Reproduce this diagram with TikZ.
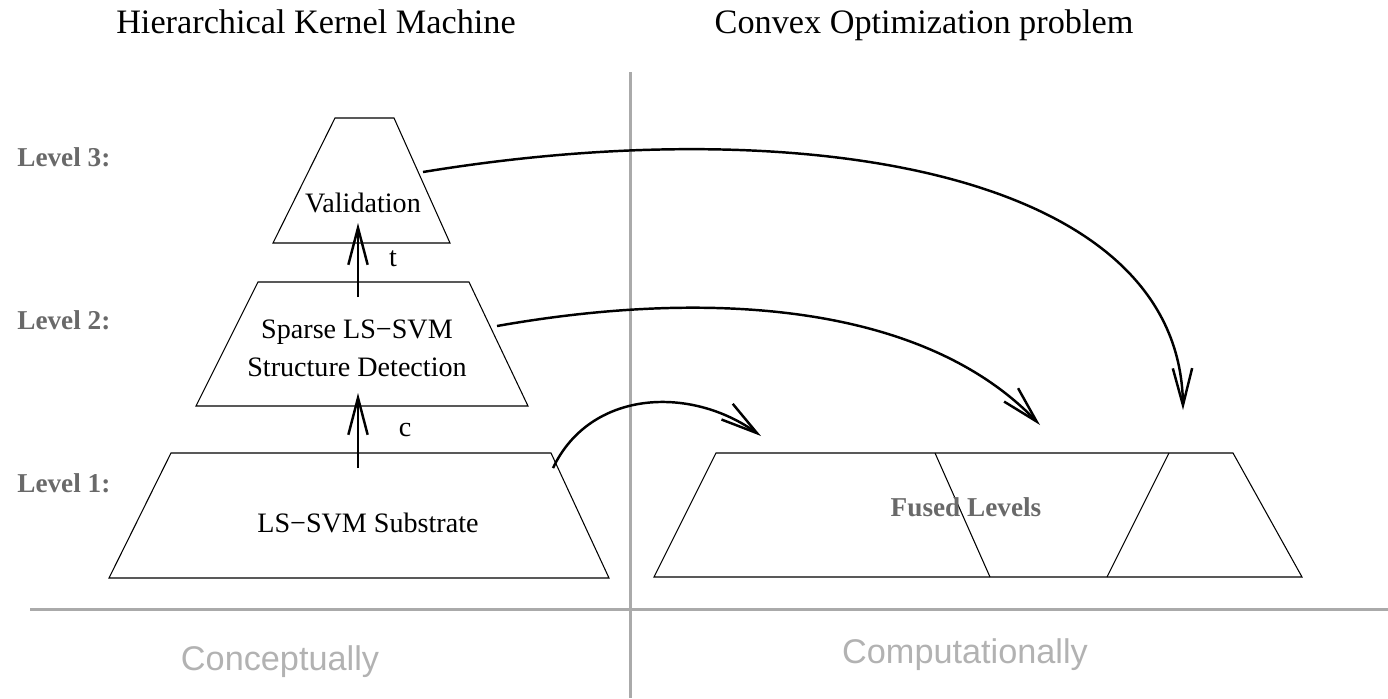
\documentclass[tikz,border=0pt]{standalone}
\usepackage{fontspec}
\setmainfont{Liberation Serif}
\setsansfont{Liberation Sans}
\usepackage{tikz}
\usetikzlibrary{arrows.meta,calc}
\definecolor{divgray}{RGB}{170,170,170}
\definecolor{lvlgray}{RGB}{105,105,105}
\definecolor{sidegray}{RGB}{178,178,178}
\tikzset{
    tier/.style={draw, line width=0.6pt},
    flow/.style={line width=1.4pt, -{Straight Barb[length=21pt,width=11pt,line width=1.4pt]}},
    divider/.style={draw=divgray, line width=1.7pt},
    lvl/.style={text=lvlgray, inner sep=0pt, font=\fontsize{15.5}{18}\selectfont\bfseries},
    body/.style={align=center, font=\fontsize{16}{21.5}\selectfont},
    heading/.style={anchor=base, font=\fontsize{19.5}{23}\selectfont},
    side/.style={anchor=base, text=sidegray, font=\fontsize{19.5}{23}\sffamily\selectfont}
}

\begin{document}
\begin{tikzpicture}[x=0.02cm, y=-0.02cm]
        \useasboundingbox (0,0) rectangle (1388,698);

        % Headings
        \node[heading] (hkm) at (316,33) {Hierarchical Kernel Machine};
        \node[heading] (cop) at (924,33) {Convex Optimization problem};

        % Draw the dividers
        \draw[divider] (630,72) -- (630,698);
        \draw[divider] (30,609) -- (1388,609);
        \node[side] (concept) at (280,670) {Conceptually};
        \node[side] (comput) at (965,663) {Computationally};

        % Level labels
        \node[lvl, anchor=west] (lv3) at (17,157) {Level 3:};
        \node[lvl, anchor=west] (lv2) at (17,320) {Level 2:};
        \node[lvl, anchor=west] (lv1) at (17,483) {Level 1:};

        % Draw the hierarchy
        \draw[tier] (273,243) -- (335,118) -- (394,118) -- (450,243) -- cycle;
        \draw[tier] (196,406) -- (258,282) -- (469,282) -- (528,406) -- cycle;
        \draw[tier] (109,578) -- (171,453) -- (551,453) -- (609,578) -- cycle;
        \node[body] (valid) at (363,203) {Validation};
        \node[body] (sparse) at (357,348) {Sparse LS−SVM\\Structure Detection};
        \node[body] (subst) at (368,523) {LS−SVM Substrate};

        % Draw the fused levels
        \draw[tier] (654,577) -- (716,453) -- (1233,453) -- (1302,577) -- cycle;
        \draw[tier] (935,453) -- (990,577);
        \draw[tier] (1169,453) -- (1107,577);
        \node[lvl] (fused) at (966,507) {Fused Levels};

        % Arrows between levels
        \coordinate (c0) at (358,468);
        \coordinate (c1) at (358,393);
        \coordinate (t0) at (358,297);
        \coordinate (t1) at (358,223);
        \draw[flow] (c0) -- (c1);
        \draw[flow] (t0) -- (t1);
        \node[body] (clab) at (405,430) {c};
        \node[body] (tlab) at (393,259) {t};

        % Arrows to the fused levels
        \coordinate (o1) at (553,468);
        \coordinate (o2) at (497,326);
        \coordinate (o3) at (423,172);
        \coordinate (f1) at (761,436);
        \coordinate (f2) at (1040,425);
        \coordinate (f3) at (1183,410);
        \draw[flow] (o1) .. controls (590,390) and (690,385) .. (f1);
        \draw[flow] (o2) .. controls (700,290) and (920,300) .. (f2);
        \draw[flow] (o3) .. controls (800,110) and (1180,170) .. (f3);
    \end{tikzpicture}
\end{document}
